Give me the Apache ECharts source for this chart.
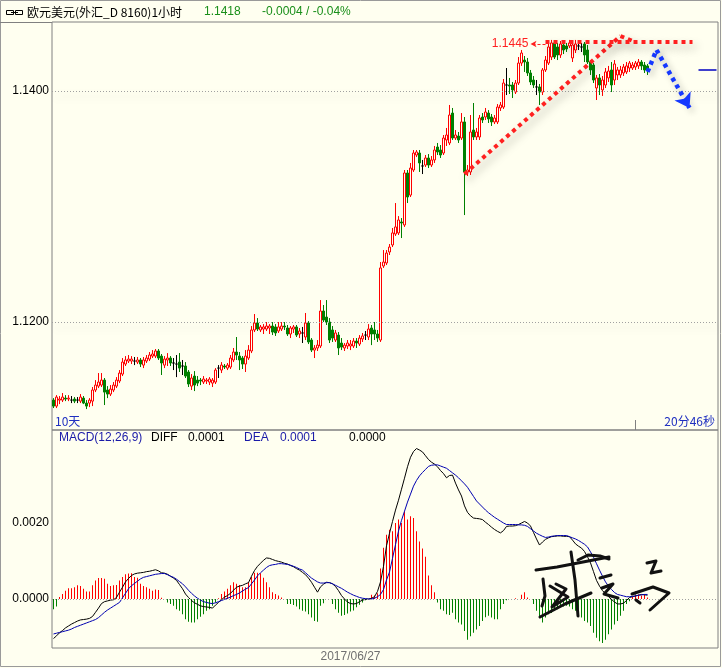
<!DOCTYPE html>
<html><head><meta charset="utf-8">
<script src="https://cdn.jsdelivr.net/npm/echarts@6/dist/echarts.min.js"></script>
<style>html,body{margin:0;padding:0;background:#FFFFF0;}#c{width:722px;height:668px;}</style>
</head><body><div id="c"></div>
<script>
// ---- Price data (EUR/USD 1h) ----
const opens = [
1.11324,1.11272,1.11324,1.11324,1.11341,1.11333,1.11324,1.11333,1.11324,1.11315,
1.11341,1.11298,1.11298,1.11315,1.11411,1.11445,1.11454,1.11497,1.11411,1.11376,
1.11411,1.11445,1.11489,1.11549,1.11636,1.11662,1.11662,1.11662,1.11653,1.11671,
1.11627,1.11662,1.11679,1.11705,1.11705,1.11749,1.11705,1.11627,1.11671,1.11688,
1.11645,1.11636,1.11653,1.11619,1.11619,1.11567,1.11445,1.11532,1.11497,1.11497,
1.11480,1.11489,1.11480,1.11471,1.11480,1.11601,1.11584,1.11619,1.11601,1.11610,
1.11671,1.11740,1.11705,1.11688,1.11636,1.11688,1.11749,1.11931,1.11991,1.11931,
1.11939,1.11939,1.11948,1.11965,1.11957,1.11922,1.11939,1.11965,1.11948,1.11896,
1.11939,1.11957,1.11896,1.11905,1.11870,1.11991,1.11844,1.11757,1.11775,1.11792,
1.12095,1.12043,1.12000,1.11931,1.11844,1.11887,1.11818,1.11775,1.11792,1.11792,
1.11792,1.11835,1.11809,1.11853,1.11887,1.11870,1.11948,1.11931,1.11896,1.11844,
1.12485,1.12511,1.12606,1.12667,1.12762,1.12771,1.12866,1.12840,1.13290,1.13099,
1.13316,1.13446,1.13463,1.13351,1.13359,1.13420,1.13359,1.13403,1.13515,1.13489,
1.13463,1.13576,1.13550,1.13809,1.13593,1.13610,1.13593,1.13732,1.13299,1.13299,
1.13662,1.13602,1.13602,1.13775,1.13775,1.13809,1.13775,1.13732,1.13732,1.13853,
1.13861,1.14052,1.14052,1.14052,1.13991,1.14069,1.14242,1.14268,1.14251,1.14156,
1.14095,1.14035,1.14035,1.13991,1.14182,1.14242,1.14294,1.14416,1.14381,1.14312,
1.14398,1.14390,1.14390,1.14286,1.14355,1.14390,1.14381,1.14407,1.14355,1.14251,
1.14225,1.14026,1.14113,1.14009,1.14052,1.14113,1.14182,1.14095,1.14139,1.14139,
1.14156,1.14165,1.14199,1.14199,1.14208,1.14217,1.14251,1.14225,1.14217];
const closes = [
1.11272,1.11350,1.11333,1.11350,1.11333,1.11341,1.11324,1.11315,1.11324,1.11350,
1.11298,1.11272,1.11324,1.11411,1.11454,1.11480,1.11497,1.11393,1.11376,1.11419,
1.11454,1.11497,1.11558,1.11653,1.11671,1.11679,1.11679,1.11662,1.11671,1.11636,
1.11671,1.11688,1.11714,1.11723,1.11749,1.11688,1.11645,1.11679,1.11688,1.11645,
1.11645,1.11636,1.11601,1.11619,1.11532,1.11463,1.11515,1.11454,1.11471,1.11489,
1.11506,1.11497,1.11506,1.11497,1.11584,1.11601,1.11627,1.11610,1.11627,1.11688,
1.11740,1.11714,1.11671,1.11636,1.11705,1.11757,1.11931,1.11991,1.11939,1.11957,
1.11957,1.11965,1.11965,1.11913,1.11905,1.11957,1.11965,1.11957,1.11896,1.11948,
1.11957,1.11887,1.11922,1.11905,1.11991,1.11827,1.11757,1.11775,1.11800,1.12095,
1.12017,1.12000,1.11844,1.11861,1.11905,1.11775,1.11783,1.11800,1.11818,1.11809,
1.11835,1.11818,1.11861,1.11879,1.11887,1.11939,1.11896,1.11896,1.11861,1.12468,
1.12519,1.12597,1.12649,1.12771,1.12823,1.12883,1.12857,1.13290,1.13082,1.13333,
1.13463,1.13472,1.13377,1.13351,1.13420,1.13359,1.13403,1.13489,1.13472,1.13446,
1.13593,1.13619,1.13792,1.13593,1.13619,1.13576,1.13732,1.13299,1.13316,1.13645,
1.13602,1.13645,1.13766,1.13749,1.13818,1.13758,1.13732,1.13766,1.13861,1.13879,
1.14069,1.14052,1.14043,1.14009,1.14069,1.14242,1.14329,1.14251,1.14156,1.14078,
1.14052,1.14035,1.13991,1.14182,1.14268,1.14381,1.14416,1.14294,1.14312,1.14407,
1.14355,1.14364,1.14416,1.14398,1.14407,1.14390,1.14381,1.14312,1.14251,1.14182,
1.14095,1.14113,1.14052,1.14095,1.14165,1.14173,1.14052,1.14234,1.14182,1.14182,
1.14208,1.14217,1.14242,1.14225,1.14242,1.14251,1.14217,1.14182,1.14182];
const lows = [
1.11255,1.11255,1.11289,1.11307,1.11315,1.11315,1.11298,1.11298,1.11298,1.11298,
1.11289,1.11246,1.11263,1.11272,1.11393,1.11428,1.11437,1.11281,1.11341,1.11359,
1.11393,1.11428,1.11471,1.11532,1.11619,1.11645,1.11636,1.11627,1.11636,1.11610,
1.11601,1.11645,1.11662,1.11688,1.11688,1.11671,1.11541,1.11601,1.11619,1.11619,
1.11584,1.11523,1.11567,1.11541,1.11515,1.11437,1.11411,1.11402,1.11445,1.11454,
1.11463,1.11463,1.11454,1.11437,1.11463,1.11515,1.11558,1.11593,1.11584,1.11593,
1.11653,1.11671,1.11584,1.11593,1.11567,1.11671,1.11731,1.11913,1.11922,1.11913,
1.11896,1.11922,1.11896,1.11887,1.11879,1.11905,1.11922,1.11931,1.11879,1.11861,
1.11905,1.11870,1.11861,1.11818,1.11844,1.11809,1.11740,1.11688,1.11749,1.11775,
1.12000,1.11974,1.11818,1.11827,1.11827,1.11714,1.11757,1.11749,1.11766,1.11757,
1.11775,1.11775,1.11792,1.11827,1.11844,1.11844,1.11800,1.11844,1.11827,1.11827,
1.12468,1.12493,1.12580,1.12649,1.12745,1.12753,1.12727,1.12823,1.13030,1.13082,
1.13299,1.13428,1.13299,1.13281,1.13342,1.13333,1.13342,1.13377,1.13446,1.13420,
1.13446,1.13524,1.13532,1.13576,1.13576,1.13550,1.13576,1.12926,1.13264,1.13273,
1.13576,1.13576,1.13576,1.13723,1.13749,1.13723,1.13697,1.13714,1.13714,1.13827,
1.13844,1.13965,1.13974,1.13939,1.13974,1.14052,1.14217,1.14165,1.14130,1.14052,
1.14026,1.13965,1.13879,1.13965,1.14165,1.14225,1.14268,1.14277,1.14268,1.14286,
1.14320,1.14338,1.14372,1.14251,1.14329,1.14355,1.14338,1.14251,1.14234,1.14139,
1.14069,1.13922,1.13965,1.13957,1.14026,1.14078,1.13991,1.14052,1.14095,1.14113,
1.14130,1.14147,1.14165,1.14182,1.14182,1.14191,1.14182,1.14156,1.14139];
const highs = [
1.11341,1.11367,1.11359,1.11385,1.11367,1.11367,1.11359,1.11350,1.11350,1.11376,
1.11359,1.11324,1.11341,1.11437,1.11497,1.11558,1.11558,1.11515,1.11445,1.11454,
1.11480,1.11523,1.11584,1.11688,1.11705,1.11714,1.11705,1.11697,1.11697,1.11688,
1.11697,1.11714,1.11740,1.11757,1.11766,1.11766,1.11723,1.11705,1.11731,1.11705,
1.11688,1.11714,1.11731,1.11671,1.11653,1.11584,1.11549,1.11575,1.11532,1.11515,
1.11532,1.11515,1.11523,1.11515,1.11601,1.11627,1.11653,1.11636,1.11645,1.11714,
1.11775,1.11870,1.11740,1.11705,1.11757,1.11800,1.11965,1.12069,1.12034,1.11974,
1.11982,1.12000,1.11982,1.12000,1.11982,1.12000,1.12000,1.12000,1.11974,1.11965,
1.11974,1.11974,1.11948,1.11957,1.12078,1.12008,1.11861,1.11800,1.11844,1.12190,
1.12147,1.12190,1.12034,1.11965,1.11931,1.11913,1.11861,1.11818,1.11844,1.11844,
1.11861,1.11861,1.11887,1.11905,1.11922,1.11982,1.11974,1.12000,1.11931,1.12519,
1.12623,1.12623,1.12675,1.12814,1.13030,1.12917,1.12900,1.13316,1.13316,1.13377,
1.13489,1.13489,1.13489,1.13403,1.13446,1.13454,1.13437,1.13524,1.13550,1.13532,
1.13619,1.13680,1.13879,1.13853,1.13662,1.13645,1.13809,1.13775,1.13359,1.13792,
1.13896,1.13680,1.13792,1.13809,1.13853,1.13835,1.13801,1.13792,1.13887,1.13905,
1.14104,1.14199,1.14113,1.14078,1.14095,1.14294,1.14355,1.14303,1.14286,1.14182,
1.14130,1.14095,1.14061,1.14199,1.14303,1.14407,1.14442,1.14433,1.14416,1.14433,
1.14424,1.14416,1.14442,1.14416,1.14442,1.14433,1.14416,1.14424,1.14398,1.14268,
1.14242,1.14139,1.14147,1.14130,1.14199,1.14217,1.14251,1.14268,1.14208,1.14217,
1.14234,1.14251,1.14260,1.14251,1.14260,1.14277,1.14268,1.14251,1.14234];

// ---- MACD(12,26,9) data ----
const diffValues = [
-0.00104,-0.00097,-0.00089,-0.00083,-0.00076,-0.00071,-0.00066,-0.00062,-0.00058,-0.00055,
-0.00054,-0.00053,-0.00051,-0.00046,-0.00035,-0.00024,-0.00012,-0.00007,-0.00005,-0.00003,
-0.00002,0.00004,0.00018,0.00031,0.00045,0.00054,0.00062,0.00066,0.00068,0.00069,
0.00070,0.00072,0.00073,0.00075,0.00077,0.00074,0.00069,0.00068,0.00065,0.00060,
0.00055,0.00049,0.00038,0.00027,0.00013,0.00004,-0.00004,-0.00010,-0.00014,-0.00018,
-0.00020,-0.00021,-0.00022,-0.00024,-0.00016,-0.00009,-0.00002,0.00005,0.00009,0.00015,
0.00023,0.00031,0.00034,0.00036,0.00040,0.00043,0.00060,0.00075,0.00086,0.00094,
0.00102,0.00108,0.00107,0.00104,0.00101,0.00099,0.00097,0.00094,0.00092,0.00088,
0.00085,0.00080,0.00076,0.00070,0.00064,0.00055,0.00044,0.00031,0.00018,0.00032,
0.00039,0.00044,0.00043,0.00040,0.00033,0.00022,0.00009,0.00000,-0.00008,-0.00012,
-0.00013,-0.00012,-0.00007,-0.00003,-0.00001,0.00000,0.00002,0.00006,0.00020,0.00045,
0.00086,0.00140,0.00173,0.00204,0.00234,0.00260,0.00289,0.00318,0.00348,0.00373,
0.00388,0.00396,0.00392,0.00387,0.00377,0.00367,0.00360,0.00355,0.00348,0.00338,
0.00330,0.00319,0.00325,0.00326,0.00305,0.00287,0.00271,0.00245,0.00228,0.00219,
0.00213,0.00212,0.00211,0.00209,0.00202,0.00196,0.00189,0.00183,0.00178,0.00174,
0.00180,0.00191,0.00192,0.00192,0.00193,0.00196,0.00200,0.00204,0.00200,0.00192,
0.00175,0.00158,0.00142,0.00150,0.00157,0.00161,0.00164,0.00165,0.00166,0.00166,
0.00165,0.00165,0.00164,0.00155,0.00145,0.00139,0.00134,0.00125,0.00111,0.00095,
0.00072,0.00049,0.00034,0.00022,0.00014,0.00006,-0.00001,-0.00008,-0.00013,-0.00013,
-0.00011,-0.00004,0.00004,0.00006,0.00008,0.00010,0.00012,0.00011,0.00010];
const deaValues = [
-0.00092,-0.00090,-0.00088,-0.00086,-0.00084,-0.00082,-0.00079,-0.00075,-0.00072,-0.00069,
-0.00066,-0.00063,-0.00060,-0.00057,-0.00054,-0.00049,-0.00042,-0.00035,-0.00029,-0.00024,
-0.00019,-0.00014,-0.00009,0.00003,0.00015,0.00027,0.00035,0.00041,0.00047,0.00053,
0.00057,0.00059,0.00061,0.00063,0.00065,0.00066,0.00067,0.00067,0.00064,0.00060,
0.00057,0.00052,0.00046,0.00040,0.00032,0.00023,0.00015,0.00008,0.00002,-0.00003,
-0.00007,-0.00009,-0.00011,-0.00012,-0.00010,-0.00007,-0.00004,-0.00001,0.00002,0.00005,
0.00009,0.00012,0.00016,0.00021,0.00026,0.00030,0.00040,0.00050,0.00061,0.00069,
0.00076,0.00083,0.00088,0.00090,0.00091,0.00093,0.00093,0.00092,0.00091,0.00089,
0.00086,0.00083,0.00079,0.00076,0.00069,0.00062,0.00055,0.00050,0.00045,0.00042,
0.00042,0.00043,0.00043,0.00040,0.00036,0.00032,0.00028,0.00023,0.00018,0.00014,
0.00010,0.00007,0.00004,0.00002,0.00001,0.00000,0.00000,0.00002,0.00006,0.00012,
0.00025,0.00050,0.00071,0.00107,0.00143,0.00179,0.00207,0.00231,0.00255,0.00276,
0.00297,0.00312,0.00324,0.00333,0.00341,0.00349,0.00352,0.00353,0.00353,0.00350,
0.00347,0.00344,0.00338,0.00332,0.00326,0.00319,0.00311,0.00303,0.00294,0.00282,
0.00270,0.00258,0.00250,0.00242,0.00234,0.00227,0.00221,0.00215,0.00210,0.00205,
0.00200,0.00196,0.00196,0.00196,0.00196,0.00195,0.00195,0.00194,0.00191,0.00185,
0.00179,0.00173,0.00169,0.00165,0.00162,0.00163,0.00165,0.00166,0.00167,0.00167,
0.00167,0.00167,0.00164,0.00161,0.00158,0.00154,0.00149,0.00144,0.00137,0.00124,
0.00110,0.00093,0.00076,0.00060,0.00045,0.00034,0.00025,0.00017,0.00012,0.00010,
0.00008,0.00006,0.00006,0.00007,0.00008,0.00010,0.00011,0.00012,0.00012];
const macdBars = [
-0.00027,-0.00020,0.00005,0.00013,0.00022,0.00028,0.00028,0.00031,0.00036,0.00034,
0.00027,0.00020,0.00020,0.00036,0.00049,0.00055,0.00055,0.00053,0.00040,0.00034,
0.00036,0.00037,0.00049,0.00058,0.00065,0.00067,0.00068,0.00058,0.00056,0.00040,
0.00034,0.00031,0.00027,0.00022,0.00025,0.00024,0.00003,0.00000,-0.00009,-0.00013,
-0.00018,-0.00027,-0.00031,-0.00040,-0.00053,-0.00060,-0.00062,-0.00062,-0.00053,-0.00047,
-0.00040,-0.00031,-0.00027,-0.00018,-0.00009,0.00002,0.00013,0.00020,0.00027,0.00036,
0.00044,0.00040,0.00037,0.00031,0.00031,0.00044,0.00058,0.00069,0.00069,0.00068,
0.00056,0.00044,0.00031,0.00018,0.00013,0.00009,0.00004,0.00000,-0.00013,-0.00013,
-0.00016,-0.00020,-0.00027,-0.00031,-0.00033,-0.00040,-0.00049,-0.00058,-0.00060,-0.00018,
-0.00011,0.00000,0.00000,-0.00013,-0.00027,-0.00036,-0.00044,-0.00042,-0.00038,-0.00033,
-0.00030,-0.00022,-0.00015,-0.00009,-0.00003,0.00000,0.00011,0.00009,0.00015,0.00080,
0.00135,0.00169,0.00182,0.00178,0.00200,0.00209,0.00200,0.00231,0.00209,0.00218,
0.00213,0.00178,0.00151,0.00133,0.00111,0.00062,0.00036,0.00018,-0.00009,-0.00027,
-0.00031,-0.00040,-0.00042,-0.00036,-0.00053,-0.00062,-0.00067,-0.00084,-0.00107,-0.00098,
-0.00089,-0.00080,-0.00071,-0.00058,-0.00048,-0.00044,-0.00049,-0.00053,-0.00053,-0.00027,
-0.00013,-0.00003,0.00000,0.00000,0.00002,0.00000,0.00011,0.00018,0.00004,0.00000,
-0.00013,-0.00031,-0.00049,-0.00062,-0.00049,-0.00040,-0.00037,-0.00031,-0.00027,-0.00018,
-0.00020,-0.00018,-0.00020,-0.00027,-0.00031,-0.00040,-0.00049,-0.00058,-0.00062,-0.00071,
-0.00089,-0.00102,-0.00111,-0.00116,-0.00107,-0.00093,-0.00080,-0.00067,-0.00058,-0.00044,
-0.00031,-0.00013,-0.00006,0.00006,0.00009,0.00012,0.00009,0.00012,0.00004];

// ---- Axis / annotation values ----
const priceTicks = [1.12, 1.14];
const macdTicks = [0, 0.002];
const dateLabel = '2017/06/27';
const dateLabelIndex = 99;
const dayMarkIndex = 194;
const emptySlots = 23;
const resistance = 1.14424;          // horizontal "1.1445" resistance line
const trendStart = [137, 1.13281];   // rising support line
const trendEnd = [189, 1.14476];
const forecastPath = [[198, 1.14165], [201, 1.14355], [212, 1.13853]];
const lastPrice = closes[closes.length - 1];

const BG = '#FFFFF0';
const FONT = '"Liberation Sans", Arial, sans-serif';
const CJK = '"Noto Sans CJK SC", sans-serif';

const n = closes.length;
const categories = [];
for (let i = 0; i < n + emptySlots; i++) categories.push(i);
const kData = opens.map((o, i) => [o, closes[i], lows[i], highs[i]]);

const chart = echarts.init(document.getElementById('c'), null, {renderer: 'canvas'});

const dotted = {color: '#a0a0a0', type: [1, 2], width: 1};

function txt(x, y, text, fill, opts) {
  return Object.assign({type: 'text', x: x, y: y, silent: true, z: 100,
    style: Object.assign({text: text, fill: fill, font: '12px ' + FONT, verticalAlign: 'middle', align: 'left'}, {})}, opts || {});
}

const sigStroke = {stroke: '#111', lineWidth: 3, lineCap: 'round', lineJoin: 'round', fill: null};
function sig(points) { return {type: 'polyline', silent: true, z: 120, shape: {points: points}, style: sigStroke}; }

const option = {
  backgroundColor: BG,
  animation: false,
  grid: [
    {left: 52, top: 22, right: 4, height: 408, show: true, borderColor: '#808080', borderWidth: 1, backgroundColor: 'transparent'},
    {left: 52, top: 430, right: 4, height: 218, show: true, borderColor: '#808080', borderWidth: 1, backgroundColor: 'transparent'}
  ],
  xAxis: [
    {type: 'category', gridIndex: 0, data: categories, boundaryGap: true,
     axisLine: {show: false}, axisLabel: {show: false},
     axisTick: {show: true, inside: true, length: 10, alignWithLabel: true, interval: (i) => i === dayMarkIndex, lineStyle: {color: '#808080'}},
     splitLine: {show: false}},
    {type: 'category', gridIndex: 1, data: categories, boundaryGap: true,
     axisLine: {show: false},
     axisTick: {show: true, inside: true, length: 8, alignWithLabel: true, interval: (i) => i === dayMarkIndex, lineStyle: {color: '#808080'}},
     axisLabel: {show: true, interval: (i) => i === dateLabelIndex, formatter: () => dateLabel, color: '#707070', fontSize: 12, fontFamily: FONT, margin: 3},
     splitLine: {show: false}}
  ],
  yAxis: [
    {type: 'value', gridIndex: 0, min: 1.1106494, max: 1.145974, scale: true,
     axisLine: {show: false}, axisTick: {show: false, customValues: priceTicks},
     axisLabel: {show: true, customValues: priceTicks, formatter: (v) => v.toFixed(4), color: '#000', fontSize: 12, fontFamily: FONT, margin: 3},
     splitLine: {show: false}},
    {type: 'value', gridIndex: 1, min: -0.0012895, max: 0.0044474,
     axisLine: {show: false}, axisTick: {show: false, customValues: macdTicks},
     axisLabel: {show: true, customValues: macdTicks, formatter: (v) => v.toFixed(4), color: '#000', fontSize: 12, fontFamily: FONT, margin: 3},
     splitLine: {show: false}}
  ],
  series: [
    {type: 'candlestick', name: 'EURUSD', xAxisIndex: 0, yAxisIndex: 0, data: kData, barWidth: 3,
     itemStyle: {color: BG, color0: '#008000', borderColor: '#ff0000', borderColor0: '#008000', borderColorDoji: '#000000', borderWidth: 1},
     markLine: {silent: true, symbol: ['none', 'none'], animation: false, label: {show: false},
       data: [
         ...priceTicks.map(v => ({yAxis: v, lineStyle: dotted})),
         [{coord: trendStart}, {coord: trendEnd}],
         [{coord: trendEnd}, {coord: [194, resistance]}],
         [{coord: [164, resistance]}, {coord: [213, resistance]}],
         [{coord: [164, 1.14407], lineStyle: {color: '#ff2020', width: 1, type: [3, 2], shadowBlur: 0, shadowOffsetX: 0, shadowOffsetY: 0}},
          {coord: [159, 1.14407], symbol: 'arrow', symbolSize: [5, 6],
           label: {show: true, position: 'end', formatter: '1.1445', color: '#ff2020', fontSize: 12, fontFamily: FONT, distance: 2}}],
         [{coord: forecastPath[0], lineStyle: {color: '#1538ff', width: 4.5, type: [4, 4], shadowBlur: 6, shadowColor: 'rgba(0,0,0,0.3)', shadowOffsetX: 3, shadowOffsetY: 3}}, {coord: forecastPath[1]}],
         [{coord: forecastPath[1], lineStyle: {color: '#1538ff', width: 4.5, type: [4, 4], shadowBlur: 6, shadowColor: 'rgba(0,0,0,0.3)', shadowOffsetX: 3, shadowOffsetY: 3}},
          {coord: forecastPath[2], symbol: 'arrow', symbolSize: 14, symbolRotate: null}],
         [{coord: [215, lastPrice], lineStyle: {color: '#0000c0', width: 1.5, type: 'solid', shadowBlur: 0, shadowOffsetX: 0, shadowOffsetY: 0}}, {coord: [221, lastPrice]}]
       ],
       lineStyle: {color: '#ff2020', width: 4, type: [4, 4], shadowBlur: 8, shadowColor: 'rgba(0,0,0,0.35)', shadowOffsetX: 3, shadowOffsetY: 5}
     }},
    {type: 'bar', name: 'MACD', xAxisIndex: 1, yAxisIndex: 1, data: macdBars, barWidth: 1,
     itemStyle: {color: (p) => p.value >= 0 ? '#ff0000' : '#008000'}},
    {type: 'line', name: 'DIFF', xAxisIndex: 1, yAxisIndex: 1, data: diffValues, showSymbol: false, symbol: 'none',
     lineStyle: {color: '#000000', width: 1},
     markLine: {silent: true, symbol: ['none', 'none'], label: {show: false}, data: macdTicks.map(v => ({yAxis: v})), lineStyle: dotted}},
    {type: 'line', name: 'DEA', xAxisIndex: 1, yAxisIndex: 1, data: deaValues, showSymbol: false, symbol: 'none',
     lineStyle: {color: '#0000b0', width: 1}}
  ],
  graphic: [
    {type: 'rect', silent: true, z: 90, shape: {x: 0.5, y: 0.5, width: 720, height: 666}, style: {fill: null, stroke: '#9a9a9a', lineWidth: 1}},
    {type: 'line', silent: true, z: 90, shape: {x1: 0, y1: 22.5, x2: 52, y2: 22.5}, style: {stroke: '#808080', lineWidth: 1}},
    // link icon
    {type: 'rect', silent: true, z: 100, shape: {x: 6.5, y: 10.5, width: 7, height: 4}, style: {fill: null, stroke: '#000', lineWidth: 1}},
    {type: 'rect', silent: true, z: 100, shape: {x: 15.5, y: 10.5, width: 7, height: 4}, style: {fill: null, stroke: '#000', lineWidth: 1}},
    {type: 'line', silent: true, z: 100, shape: {x1: 11, y1: 12.5, x2: 18, y2: 12.5}, style: {stroke: '#000', lineWidth: 1}},
    txt(27, 12, '欧元美元(外汇_D 8160)1小时', '#000', {style: {text: '欧元美元(外汇_D 8160)1小时', fill: '#000', font: '12px ' + CJK, verticalAlign: 'middle', align: 'left'}}),
    txt(204, 12, lastPrice.toFixed(4), '#1a8f1a'),
    txt(262, 12, '-0.0004 / -0.04%', '#1a8f1a'),
    txt(55, 421, '10天', '#2030c0', {style: {text: '10天', fill: '#2030c0', font: '12px ' + CJK, verticalAlign: 'middle', align: 'left'}}),
    txt(715, 421, '20分46秒', '#2030c0', {style: {text: '20分46秒', fill: '#2030c0', font: '12px ' + CJK, verticalAlign: 'middle', align: 'right'}}),
    txt(59, 438, 'MACD(12,26,9)', '#1a1aa8'),
    txt(151, 438, 'DIFF', '#000'),
    txt(188, 438, diffValues[n - 1].toFixed(4), '#000'),
    txt(244, 438, 'DEA', '#1a1aa8'),
    txt(280, 438, deaValues[n - 1].toFixed(4), '#1a1aa8'),
    txt(349, 438, macdBars[n - 1].toFixed(4), '#000'),
    // handwritten signature
    sig([[536, 570], [557, 567], [583, 562], [609, 557]]),
    sig([[543, 579], [545, 596], [542, 606]]),
    sig([[550, 586], [568, 597], [552, 607], [566, 589], [556, 584]]),
    sig([[571, 552], [575, 580], [578, 616]]),
    sig([[540, 617], [565, 604], [591, 593]]),
    sig([[578, 560], [588, 555], [600, 556], [609, 559]]),
    sig([[600, 578], [611, 575]]),
    sig([[602, 588], [613, 584], [604, 594], [618, 598]]),
    sig([[647, 563], [656, 561], [651, 573], [661, 571]]),
    sig([[632, 594], [653, 587], [669, 593], [650, 610]]),
    sig([[636, 600], [640, 603]])
  ]
};
chart.setOption(option);
</script>
</body></html>
